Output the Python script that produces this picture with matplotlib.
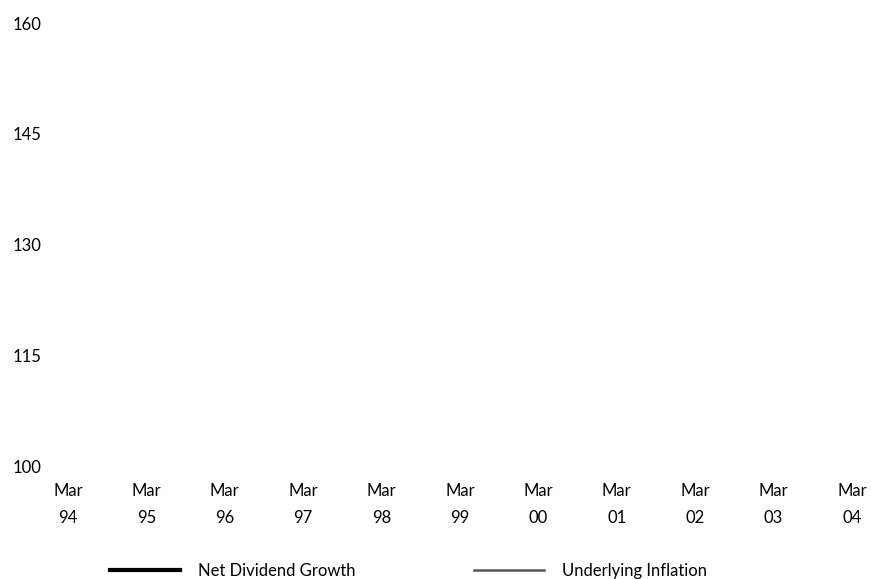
import matplotlib.pyplot as plt

# x categories (March of each year)
years = ['94', '95', '96', '97', '98', '99', '00', '01', '02', '03', '04']
x_labels = ['Mar\n' + y for y in years]
y_ticks = [100, 115, 130, 145, 160]

# the reference shows no plotted values, only the frame of the chart
net_dividend = []
underlying_inflation = []

plt.rcParams['font.family'] = ['Lato', 'DejaVu Sans']
fs = 12

fig = plt.figure(figsize=(8.71, 5.79), dpi=100)
ax = fig.add_axes([68 / 871, 1 - 466 / 579, (852 - 68) / 871, (466 - 23) / 579])

l1, = ax.plot(range(len(net_dividend)), net_dividend, color='black', lw=3,
              label='Net Dividend Growth')
l2, = ax.plot(range(len(underlying_inflation)), underlying_inflation,
              color='#555555', lw=1.8, label='Underlying Inflation')

ax.set_xlim(0, len(years) - 1)
ax.set_ylim(100, 160)
ax.set_xticks(range(len(years)))
ax.set_xticklabels(x_labels, linespacing=1.85)
ax.set_yticks(y_ticks)
ax.tick_params(axis='both', length=0, labelsize=fs)
ax.tick_params(axis='y', pad=19)
ax.tick_params(axis='x', pad=12)
for s in ax.spines.values():
    s.set_visible(False)

fig.legend(handles=[l1, l2], loc='center left', bbox_to_anchor=(110 / 871, 1 - 571 / 579),
           ncol=2, frameon=False, fontsize=fs, handlelength=4.2, handletextpad=1.1,
           columnspacing=7.1, borderpad=0, borderaxespad=0)

fig.savefig('out.png', dpi=100)
